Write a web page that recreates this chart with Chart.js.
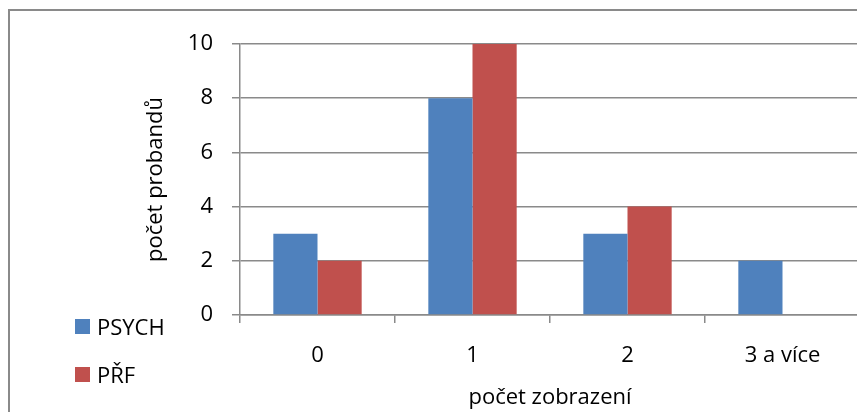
<!DOCTYPE html>
<html lang="cs">
<head>
    <meta charset="UTF-8">
    <title>počet zobrazení</title>
    <script src="https://cdn.jsdelivr.net/npm/chart.js"></script>
    <style>
        body {
            margin: 0;
            padding: 0;
            background: white;
            overflow: hidden;
            width: 857px;
            height: 412px;
            position: relative;
            font-family: 'Open Sans', sans-serif;
        }
        .frame {
            position: absolute;
            left: 8px;
            top: 9px;
            width: 900px;
            height: 500px;
            border: 2px solid #8a8a8a;
        }
        .wrap {
            position: absolute;
            left: 0;
            top: 0;
            width: 880px;
            height: 412px;
        }
        .legend {
            position: absolute;
            left: 75px;
            top: 311px;
        }
        .legend-item {
            display: flex;
            align-items: center;
            height: 30px;
            margin-bottom: 18px;
            font-size: 22px;
            color: #000;
        }
        .legend-item span.box {
            width: 15px;
            height: 15px;
            margin-right: 7px;
        }
    </style>
</head>
<body>
    <div class="frame"></div>
    <div class="wrap"><canvas id="chart"></canvas></div>
    <div class="legend" id="legend"></div>
    <script>
        const categories = ['0', '1', '2', '3 a více'];
        const psych = [3, 8, 3, 2];
        const prf = [2, 10, 4, 0];
        const seriesNames = ['PSYCH', 'PŘF'];
        const seriesColors = ['#4F81BD', '#C0504D'];

        const font = { family: "'Open Sans', sans-serif", size: 22 };
        const gray = '#8a8a8a';

        const chart = new Chart(document.getElementById('chart'), {
            type: 'bar',
            data: {
                labels: categories,
                datasets: [
                    { label: seriesNames[0], data: psych, backgroundColor: seriesColors[0] },
                    { label: seriesNames[1], data: prf, backgroundColor: seriesColors[1] }
                ]
            },
            options: {
                responsive: true,
                maintainAspectRatio: false,
                animation: false,
                layout: { padding: { left: 130, top: 44, right: 20, bottom: 0 } },
                datasets: { bar: { barPercentage: 1, categoryPercentage: 0.57 } },
                plugins: { legend: { display: false }, tooltip: { enabled: false } },
                scales: {
                    x: {
                        grid: { drawOnChartArea: false, tickLength: 8, color: gray, lineWidth: 1.5 },
                        border: { color: gray, width: 1.5 },
                        ticks: { color: '#000', font: font, padding: 20 },
                        title: { display: true, text: 'počet zobrazení', color: '#000', font: font, padding: { top: 0, bottom: 1 } },
                        afterFit: (s) => { s.height = 97; }
                    },
                    y: {
                        min: 0,
                        max: 10,
                        ticks: { stepSize: 2, color: '#000', font: font, padding: 19 },
                        grid: { color: gray, lineWidth: 1.5, tickLength: 8 },
                        border: { color: gray, width: 1.5 },
                        title: { display: true, text: 'počet probandů', color: '#000', font: font, padding: { top: 13, bottom: 0 } },
                        afterFit: (s) => { s.width = 110; }
                    }
                }
            }
        });

        const legend = document.getElementById('legend');
        chart.data.datasets.forEach((ds) => {
            const item = document.createElement('div');
            item.className = 'legend-item';
            const box = document.createElement('span');
            box.className = 'box';
            box.style.background = ds.backgroundColor;
            const txt = document.createElement('span');
            txt.textContent = ds.label;
            item.appendChild(box);
            item.appendChild(txt);
            legend.appendChild(item);
        });
    </script>
</body>
</html>
